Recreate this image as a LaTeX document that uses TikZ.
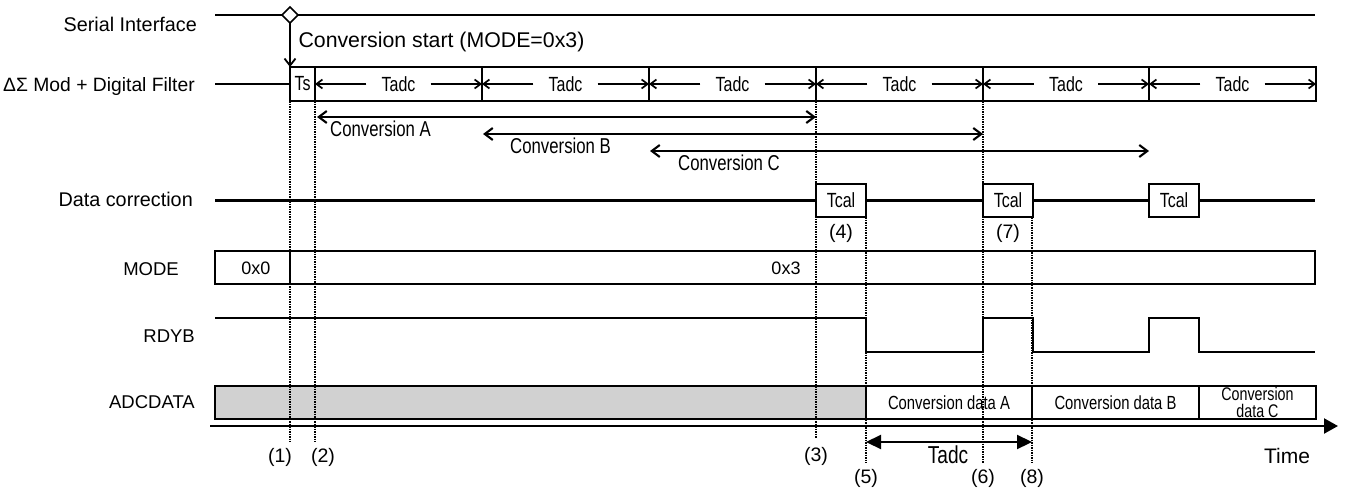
\documentclass[tikz,border=0pt]{standalone}
\usepackage{fontspec}
\setmainfont{Liberation Sans}
\newfontfamily\narrowfont[FakeStretch=0.78]{Liberation Sans}
\usetikzlibrary{arrows.meta,shapes.geometric}
\tikzset{
  sig/.style={line width=2.2pt},
  cell/.style={draw,line width=1.6pt,inner sep=0pt,outer sep=0pt},
  guide/.style={line width=1.5pt,densely dotted},
  barb/.style={line width=1.8pt,-{Straight Barb[length=7pt,width=11pt]}},
  smallbarb/.style={line width=1.7pt,-{Straight Barb[length=6pt,width=9pt]}},
  dbarb/.style={line width=2.1pt,{Straight Barb[length=8pt,width=12pt]}-{Straight Barb[length=8pt,width=12pt]}},
  rowlabel/.style={anchor=east,inner sep=0pt,text height=13.3pt,text depth=0pt,font=\fontsize{#1}{20}\selectfont},
  rowlabel/.default=18.5,
  slim/.style={font=\narrowfont\fontsize{#1}{#1}\selectfont},
  slim/.default=20.5,
  pointlabel/.style={inner sep=0pt,font=\fontsize{19.5}{20}\selectfont},
}
\begin{document}
\begin{tikzpicture}[x=1pt,y=-1pt]
\useasboundingbox (0,0) rectangle (1345,490);

\node[rowlabel=19.8] (lserial) at (197,25) {Serial Interface};
\node[rowlabel=19.3] (lfilter) at (195,85) {ΔΣ Mod + Digital Filter};
\node[rowlabel=19.8] (lcorr) at (193,200) {Data correction};
\node[rowlabel] (lmode) at (179,269) {MODE};
\node[rowlabel] (lrdyb) at (195,336) {RDYB};
\node[rowlabel] (ladc) at (195,402) {ADCDATA};

\coordinate (si0) at (215,15);
\coordinate (si1) at (1315,15);
\draw[sig] (si0) -- (si1);
\node[cell,diamond,fill=white,minimum size=16pt] (start) at (290,15) {};
\node[cell,slim,minimum width=25pt,minimum height=34pt] (ts) at (302.5,84) {Ts};
\draw[barb] (start.south) -- (ts.north west);
\node[anchor=west,font=\fontsize{21.3}{23}\selectfont] (cstart) at (295,42) {Conversion start (MODE=0x3)};
\coordinate (fl0) at (215,84);
\draw[sig] (fl0) -- (ts.west);
\foreach \a/\b [count=\k] in {315/482,482/649,649/816,816/983,983/1149,1149/1316}{
  \node[cell,minimum width={\b-\a},minimum height=34pt] (win\k) at ({(\a+\b)/2},84) {};
  \node[slim,inner xsep=15pt] (tadc\k) at (win\k) {Tadc};
  \draw[smallbarb] (tadc\k.west) -- (win\k.west);
  \draw[smallbarb] (tadc\k.east) -- (win\k.east);
}

\foreach \n/\a/\b/\y/\t in {A/317/816/117/330,B/483/983/134/510,C/650/1149/151/678}{
  \coordinate (s\n) at (\a,\y);
  \coordinate (e\n) at (\b,\y);
  \draw[dbarb] (s\n) -- (e\n);
  \node[slim=21.5,anchor=west,inner sep=0pt] (lconv\n) at (\t,\y+12) {Conversion \n};
}

\coordinate (dc0) at (215,200.5);
\coordinate (dc4) at (1315,200.5);
\foreach \x [count=\k] in {841,1008,1174}
  \node[cell,slim,fill=white,minimum width=50pt,minimum height=33pt] (tcal\k) at (\x,200.5) {Tcal};
\draw[sig] (dc0) -- (tcal1) (tcal1) -- (tcal2) (tcal2) -- (tcal3) (tcal3) -- (dc4);
\node[pointlabel] (p4) at (841,233) {(4)};
\node[pointlabel] (p7) at (1008,233) {(7)};

\node[cell,minimum width=75pt,minimum height=33pt] (mode0) at (252.5,267.5) {};
\node[cell,minimum width=1025pt,minimum height=33pt] (mode3) at (802.5,267.5) {};
\node[font=\fontsize{18}{18}\selectfont] (v0) at (256,268) {0x0};
\node[font=\fontsize{18}{18}\selectfont] (v3) at (786,268) {0x3};

\draw[sig] (215,318) -| (866,352) -| (983,318) -| (1033,352) -| (1149,318) -| (1199,352) -- (1315,352);

\node[cell,fill=black!18,minimum width=651pt,minimum height=33pt] (old) at (540.5,402.5) {};
\foreach \a/\b/\t [count=\k] in {866/1032/A,1032/1199/B}
  \node[cell,fill=white,slim=19,minimum width={\b-\a},minimum height=33pt] (data\k) at ({(\a+\b)/2},402.5) {Conversion data \t};
\node[cell,fill=white,slim=18.3,align=center,minimum width=117pt,minimum height=33pt] (data3) at (1257.5,402.5) {Conversion\\[-1.5pt]data C};

\coordinate (t0) at (210,426);
\coordinate (t1) at (1338,426);
\draw[sig,-{Triangle[length=14pt,width=15pt]}] (t0) -- (t1);
\node[font=\fontsize{21}{21}\selectfont] (time) at (1287,456) {Time};

\coordinate (m5) at (866,442);
\coordinate (m8) at (1032,442);
\draw[sig,{Triangle[length=15pt,width=14pt]}-{Triangle[length=15pt,width=14pt]}] (m5) -- (m8);
\node[slim=24.5] (tadcm) at (948,455) {Tadc};

\foreach \x/\t/\b in {290/101/442,315/101/442,816/101/438,866/217/463,983/101/463,1032/217/463}
  \draw[guide] (\x,\t) -- (\x,\b);
\foreach \t/\x/\y in {1/280/457,2/323/457,3/816/456,5/866/478,6/983/478,8/1032/478}
  \node[pointlabel] (p\t) at (\x,\y) {(\t)};
\end{tikzpicture}
\end{document}
